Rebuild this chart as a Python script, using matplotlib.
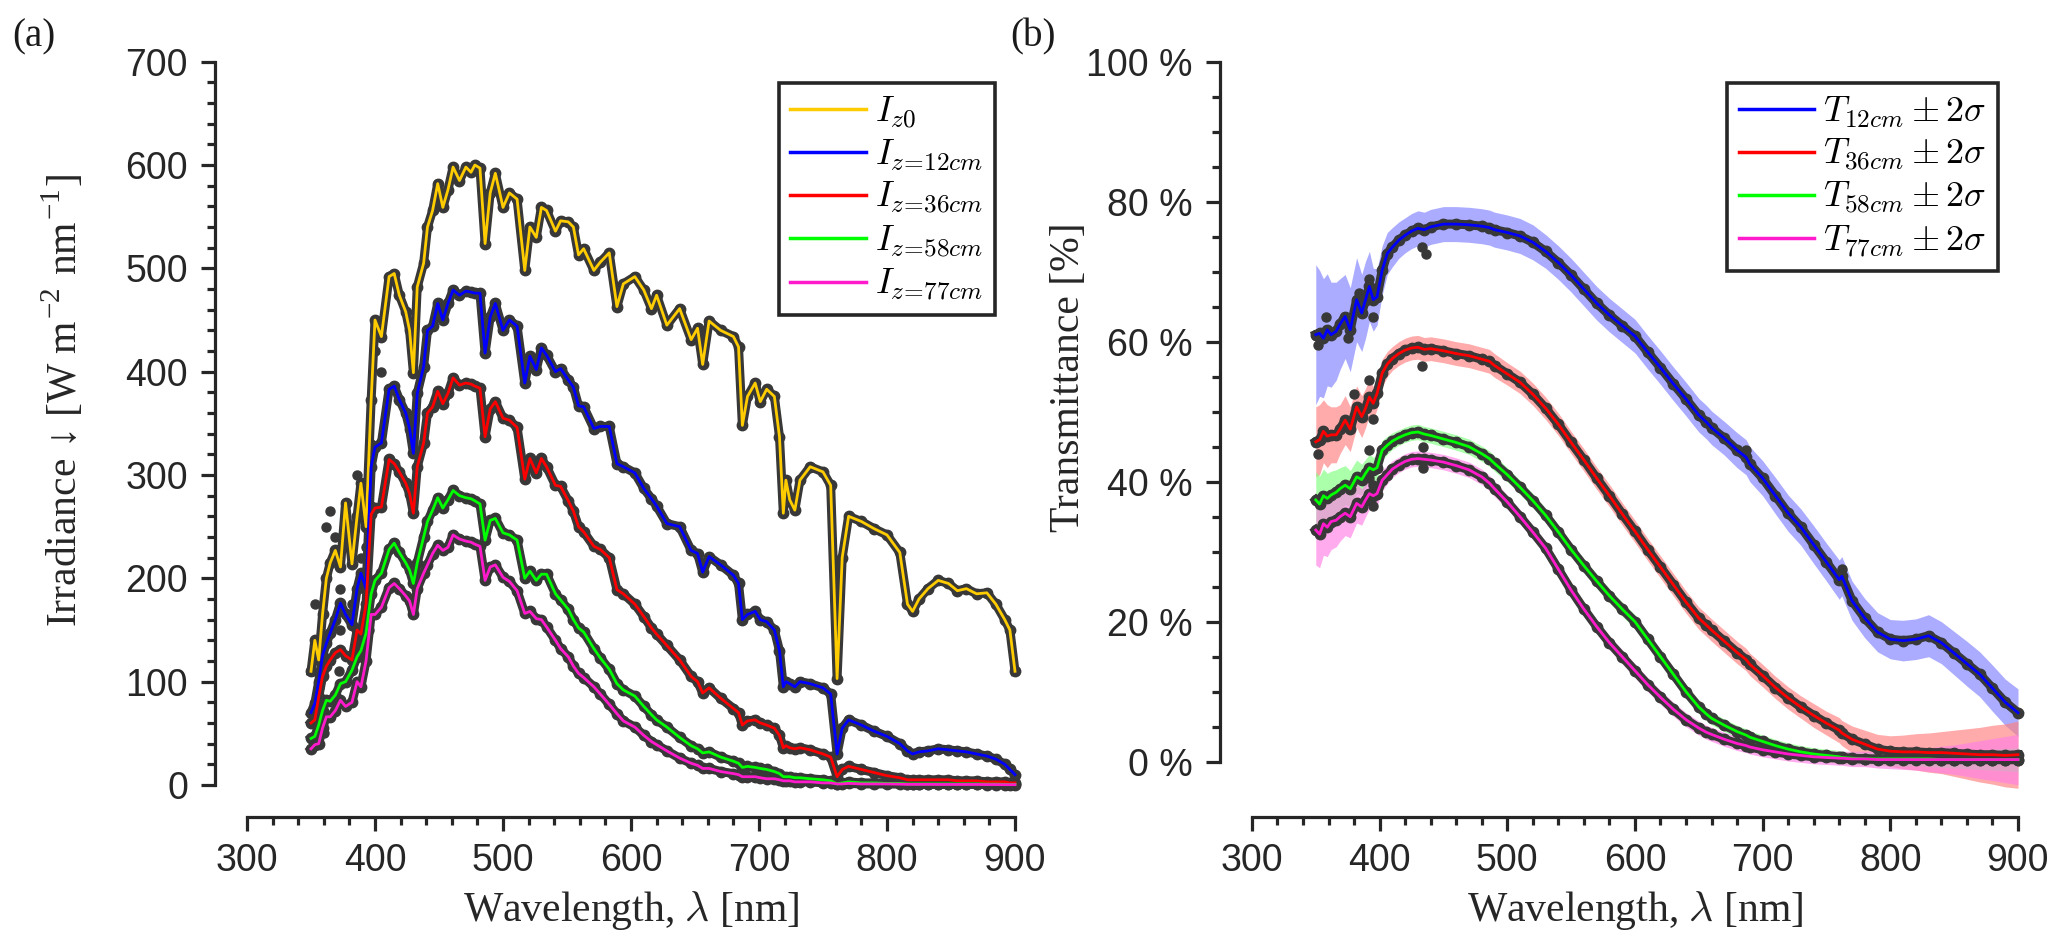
import numpy as np
import matplotlib
matplotlib.use('Agg')
import matplotlib.pyplot as plt
from matplotlib.ticker import FixedLocator, FuncFormatter

# ---------------- data: panel (a) irradiance ----------------
wavelength_irr = [350, 353, 356, 359, 362, 365, 369, 373, 377, 382,
                  386, 389, 393, 397, 400, 405, 411, 415, 419, 424,
                  427, 430, 433, 438, 441, 445, 449, 453, 457, 461,
                  466, 471, 475, 478, 482, 486, 490, 494, 500, 505,
                  511, 517, 521, 526, 530, 534, 541, 545, 551, 555,
                  559, 563, 571, 576, 583, 589, 594, 603, 610, 616,
                  620, 628, 638, 647, 652, 656, 661, 670, 680, 684,
                  687, 691, 697, 701, 706, 712, 716, 719, 721, 724,
                  728, 732, 740, 750, 756, 761, 765, 770, 780, 790,
                  800, 810, 816, 820, 825, 832, 840, 848, 855, 862,
                  870, 878, 885, 892, 896, 900]

irr_z0 = [110, 140, 121, 165, 200, 215, 227, 211, 273, 214,
          260, 292, 250, 373, 450, 434, 492, 495, 474, 458,
          440, 399, 482, 505, 540, 556, 582, 559, 576, 598,
          585, 598, 593, 600, 597, 524, 573, 592, 559, 573,
          567, 498, 540, 530, 559, 556, 536, 546, 545, 540,
          513, 519, 498, 506, 515, 463, 485, 492, 479, 461,
          474, 445, 461, 431, 442, 407, 449, 440, 434, 424,
          348, 376, 389, 371, 383, 376, 337, 263, 295, 276,
          266, 295, 308, 303, 290, 103, 220, 260, 255, 248,
          242, 225, 175, 168, 180, 190, 198, 195, 188, 190,
          185, 186, 175, 160, 150, 110]

irr_z12 = [70, 79, 100, 125, 137, 147, 160, 176, 165, 155,
           190, 205, 190, 308, 327, 331, 383, 386, 373, 360,
           345, 321, 379, 405, 440, 444, 466, 450, 466, 479,
           474, 478, 477, 476, 476, 418, 453, 466, 440, 450,
           444, 389, 415, 402, 423, 416, 400, 403, 392, 385,
           367, 366, 345, 347, 347, 311, 308, 302, 287, 277,
           270, 253, 250, 227, 224, 206, 221, 213, 203, 195,
           160, 165, 168, 160, 158, 150, 130, 95, 100, 98,
           95, 100, 98, 94, 88, 30, 55, 63, 58, 52,
           47, 40, 33, 30, 32, 33, 35, 34, 33, 32,
           30, 28, 25, 20, 15, 10]

irr_z36 = [60, 63, 85, 105, 115, 121, 128, 131, 125, 121,
           150, 146, 175, 262, 268, 269, 315, 311, 303, 292,
           282, 263, 308, 331, 360, 366, 381, 369, 379, 394,
           387, 389, 388, 386, 384, 337, 364, 371, 355, 353,
           346, 296, 316, 302, 316, 308, 290, 289, 275, 265,
           250, 245, 231, 228, 220, 189, 185, 175, 163, 152,
           146, 135, 121, 105, 100, 89, 94, 84, 74, 70,
           58, 62, 63, 60, 58, 55, 48, 36, 38, 36,
           35, 36, 34, 30, 27, 8, 15, 18, 15, 12,
           9, 7, 5, 5, 5, 5, 5, 5, 4, 4,
           4, 3, 3, 3, 2, 2]

irr_z58 = [45, 47, 58, 72, 82, 81, 87, 98, 100, 111,
           124, 130, 147, 185, 198, 205, 228, 234, 225, 215,
           208, 195, 215, 240, 255, 266, 278, 268, 276, 285,
           280, 278, 277, 275, 272, 237, 256, 258, 244, 242,
           237, 200, 207, 198, 204, 204, 185, 179, 170, 160,
           152, 148, 132, 123, 112, 98, 92, 86, 76, 68,
           63, 56, 46, 38, 35, 31, 32, 27, 23, 21,
           17, 18, 17, 16, 15, 13, 11, 8, 8, 8,
           7, 7, 6, 5, 4, 1, 2, 3, 2, 2,
           1.5, 1.5, 1, 1, 1, 1, 1, 1, 1, 1,
           1, 0.8, 0.8, 0.6, 0.5, 0.5]

irr_z77 = [35, 39, 40, 55, 66, 66, 72, 82, 76, 80,
           100, 95, 120, 165, 165, 172, 191, 195, 190, 183,
           178, 165, 190, 205, 213, 224, 232, 227, 230, 242,
           238, 236, 235, 233, 231, 198, 211, 213, 201, 197,
           188, 166, 168, 161, 160, 153, 140, 132, 124, 115,
           108, 104, 95, 88, 78, 69, 62, 56, 48, 42,
           39, 33, 26, 21, 19, 16, 16, 13, 11, 10,
           8, 8, 8, 7, 6, 6, 5, 4, 4, 4,
           3, 3, 3, 2, 2, 1, 1, 1.5, 1, 1,
           1, 0.8, 0.6, 0.6, 0.6, 0.6, 0.5, 0.5, 0.5, 0.5,
           0.5, 0.4, 0.4, 0.3, 0.3, 0.3]

# scattered individual readings (grey dots) in the noisy UV part
outlier_wl = [353, 356, 362, 365, 369, 373, 382, 386, 389, 393, 397, 400, 405,
              356, 365, 373, 382, 389, 393, 397, 360, 372, 386, 395]
outlier_irr = [175, 95, 250, 265, 240, 190, 240, 300, 270, 230, 330, 420, 400,
               60, 120, 150, 175, 220, 150, 270, 50, 110, 140, 150]

labels_irr = [r'$I_{z0}$', r'$I_{z\!=\!12cm}$', r'$I_{z\!=\!36cm}$',
              r'$I_{z\!=\!58cm}$', r'$I_{z\!=\!77cm}$']

# ---------------- data: panel (b) transmittance [%] ----------------
wavelength_T = [350, 353, 356, 359, 362, 366, 369, 373, 377, 382,
                386, 389, 392, 395, 398, 402, 406, 410, 415, 420,
                425, 430, 435, 440, 450, 460, 470, 480, 486, 490,
                500, 510, 520, 530, 540, 550, 560, 570, 580, 590,
                600, 610, 620, 630, 640, 650, 656, 660, 670, 680,
                687, 690, 700, 710, 720, 730, 740, 750, 760, 762,
                770, 780, 790, 800, 810, 820, 830, 840, 850, 860,
                870, 880, 890, 900]

T_12 = [61.0, 61.2, 60.5, 61.7, 61.0, 61.5, 62.5, 63.6, 61.7, 66.0,
        64.1, 66.0, 67.9, 66.0, 66.4, 70.2, 72.6, 73.5, 74.5, 75.2,
        75.8, 76.2, 76.0, 76.4, 76.8, 76.8, 76.7, 76.5, 76.3, 76.0,
        75.6, 75.1, 74.2, 72.9, 71.3, 69.5, 67.5, 65.5, 63.8, 62.3,
        60.8, 58.5, 56.3, 54.0, 51.8, 49.5, 48.5, 47.7, 46.2, 44.5,
        43.5, 42.5, 40.5, 38.0, 35.5, 33.5, 31.0, 28.5, 26.0, 26.5,
        23.0, 20.5, 18.5, 17.5, 17.3, 17.5, 18.0, 17.0, 15.5, 14.0,
        12.5, 10.5, 8.5, 7.0]

T_36 = [45.7, 46.0, 47.2, 46.5, 46.7, 46.7, 47.5, 48.8, 47.5, 50.7,
        49.3, 50.5, 52.1, 51.2, 52.6, 55.5, 56.8, 57.6, 58.3, 58.8,
        59.1, 59.2, 58.9, 59.0, 58.7, 58.3, 58.0, 57.5, 57.2, 56.6,
        55.4, 54.2, 52.5, 50.5, 48.2, 45.6, 43.1, 40.5, 38.0, 35.4,
        32.9, 30.3, 27.8, 25.3, 22.8, 20.5, 19.5, 18.8, 17.2, 15.6,
        14.6, 13.9, 12.3, 10.6, 9.1, 7.8, 6.6, 5.5, 4.5, 4.1,
        3.2, 2.5, 1.8, 1.5, 1.4, 1.4, 1.3, 1.3, 1.2, 1.1,
        1.0, 1.0, 0.9, 1.0]

T_58 = [37.4, 36.8, 38.0, 37.6, 38.1, 38.5, 39.0, 39.5, 39.0, 40.7,
        40.3, 41.2, 42.0, 41.7, 42.0, 44.5, 45.2, 45.8, 46.3, 46.7,
        47.0, 47.1, 46.8, 46.6, 46.1, 45.6, 45.0, 44.0, 43.3, 42.6,
        41.0, 39.2, 37.3, 35.2, 32.8, 30.3, 28.0, 25.8, 23.7, 21.8,
        20.0, 17.5, 15.0, 12.5, 10.0, 7.8, 6.8, 6.2, 5.2, 4.3,
        3.8, 3.5, 2.9, 2.3, 1.8, 1.4, 1.1, 0.9, 0.7, 0.6,
        0.5, 0.4, 0.4, 0.4, 0.4, 0.4, 0.4, 0.3, 0.3, 0.3,
        0.3, 0.3, 0.3, 0.3]

T_77 = [33.1, 32.5, 34.0, 33.5, 34.3, 34.5, 35.0, 35.5, 35.0, 36.9,
        36.4, 37.4, 38.3, 38.0, 38.3, 40.2, 41.0, 41.8, 42.4, 42.9,
        43.2, 43.3, 43.2, 43.1, 42.8, 42.3, 41.7, 40.7, 39.8, 39.0,
        37.1, 35.0, 32.8, 30.5, 27.5, 24.5, 21.8, 19.3, 17.0, 15.0,
        13.0, 11.0, 9.2, 7.5, 6.0, 4.8, 4.2, 3.9, 3.2, 2.6,
        2.3, 2.1, 1.7, 1.4, 1.1, 0.9, 0.7, 0.6, 0.5, 0.5,
        0.4, 0.4, 0.3, 0.3, 0.3, 0.3, 0.3, 0.3, 0.3, 0.3,
        0.3, 0.3, 0.3, 0.3]

# 2-sigma half widths [%]
sig2_12 = [10, 9, 8.5, 8, 7.5, 7, 6.5, 6, 6, 6,
           5.5, 5.5, 5, 4.5, 4, 3.5, 3, 2.8, 2.6, 2.5,
           2.5, 2.5, 2.5, 2.5, 2.5, 2.5, 2.5, 2.5, 2.5, 2.5,
           2.5, 2.5, 2.5, 2.4, 2.4, 2.4, 2.4, 2.4, 2.4, 2.4,
           2.4, 2.4, 2.4, 2.4, 2.4, 2.4, 2.4, 2.4, 2.4, 2.5,
           2.5, 2.5, 2.5, 2.6, 2.6, 2.6, 2.7, 2.7, 2.8, 2.8,
           2.8, 2.8, 2.8, 2.8, 2.9, 2.9, 3.0, 3.0, 3.1, 3.2,
           3.2, 3.3, 3.3, 3.4]

sig2_36 = [5, 5, 4.5, 4.5, 4, 4, 3.5, 3.5, 3.2, 3,
           3, 2.8, 2.6, 2.4, 2.2, 2, 1.8, 1.7, 1.7, 1.7,
           1.7, 1.7, 1.7, 1.7, 1.7, 1.7, 1.7, 1.7, 1.7, 1.7,
           1.6, 1.6, 1.6, 1.6, 1.6, 1.6, 1.6, 1.6, 1.6, 1.6,
           1.6, 1.6, 1.6, 1.6, 1.6, 1.6, 1.6, 1.6, 1.6, 1.6,
           1.6, 1.6, 1.6, 1.6, 1.6, 1.6, 1.7, 1.7, 1.8, 1.8,
           1.9, 2.0, 2.1, 2.2, 2.4, 2.6, 2.8, 3.0, 3.3, 3.6,
           3.9, 4.2, 4.5, 4.8]

sig2_58 = [4, 4, 3.8, 3.6, 3.4, 3.2, 3, 2.8, 2.6, 2.4,
           2.2, 2, 1.9, 1.8, 1.6, 1.4, 1.3, 1.2, 1.1, 1.1,
           1.1, 1.1, 1.1, 1.1, 1.1, 1.1, 1.1, 1.1, 1.1, 1.1,
           1.0, 1.0, 1.0, 1.0, 1.0, 1.0, 1.0, 1.0, 1.0, 1.0,
           1.0, 1.0, 1.0, 0.9, 0.9, 0.9, 0.9, 0.9, 0.9, 0.9,
           0.9, 0.9, 0.9, 0.9, 0.9, 0.9, 0.9, 0.9, 0.9, 0.9,
           0.9, 0.9, 0.9, 1.0, 1.0, 1.0, 1.1, 1.1, 1.2, 1.3,
           1.4, 1.5, 1.6, 1.7]

sig2_77 = [5, 4.8, 4.5, 4.2, 4, 3.8, 3.5, 3.2, 3, 2.8,
           2.6, 2.4, 2.2, 2, 1.8, 1.5, 1.3, 1.2, 1.1, 1.1,
           1.1, 1.1, 1.1, 1.1, 1.1, 1.1, 1.1, 1.1, 1.1, 1.1,
           1.0, 1.0, 1.0, 1.0, 1.0, 1.0, 1.0, 1.0, 1.0, 1.0,
           1.0, 1.0, 1.0, 1.0, 1.0, 1.0, 1.0, 1.0, 1.0, 1.0,
           1.0, 1.0, 1.0, 1.0, 1.0, 1.0, 1.0, 1.0, 1.0, 1.0,
           1.1, 1.1, 1.2, 1.3, 1.4, 1.5, 1.7, 1.9, 2.1, 2.4,
           2.7, 3.0, 3.3, 3.6]

# scattered individual readings (grey dots) for panel (b)
outlier_wl_T = [352, 358, 375, 384, 392, 395, 433, 436, 352, 380, 392, 395, 433,
                392, 395, 434, 392, 395, 434, 687, 762]
outlier_T = [59.5, 63.5, 60.5, 67.0, 69.0, 63.5, 73.5, 72.5, 44.0, 52.5, 54.5, 49.0, 56.5,
             44.5, 39.5, 45.0, 40.5, 36.5, 42.0, 44.5, 27.5]

labels_T = [r'$T_{12cm} \pm 2\sigma$', r'$T_{36cm} \pm 2\sigma$',
            r'$T_{58cm} \pm 2\sigma$', r'$T_{77cm} \pm 2\sigma$']

# ---------------- style ----------------
colors_irr = ['#FFCC00', '#0000FF', '#FF0000', '#00FF00', '#FF1ACC']
colors_T = colors_irr[1:]
band_colors = ['#7F7FFF', '#FF7F7F', '#7FFF7F', '#FF7FE6']
dot_color = '#383838'
axis_color = '#262626'

plt.rcParams['font.family'] = ['Liberation Sans', 'DejaVu Sans']
plt.rcParams['mathtext.fontset'] = 'cm'
serif = ['Liberation Serif', 'DejaVu Serif']

W, H = 2067, 952
fig = plt.figure(figsize=(W / 100, H / 100), dpi=100)

def px_axes(x0, x1, y_top, y_bot):
    return [x0 / W, 1 - y_bot / H, (x1 - x0) / W, (y_bot - y_top) / H]

axL = fig.add_axes(px_axes(215, 1015, 61.7, 817))
axR = fig.add_axes(px_axes(1220, 2018, 61.7, 817))


def style_axis(ax, yticks, yminor, ybounds):
    for s in ['top', 'right']:
        ax.spines[s].set_visible(False)
    for s in ['left', 'bottom']:
        ax.spines[s].set_linewidth(2.3)
        ax.spines[s].set_color(axis_color)
    ax.spines['bottom'].set_bounds(300, 900)
    ax.spines['left'].set_bounds(*ybounds)
    ax.xaxis.set_major_locator(FixedLocator(np.arange(300, 901, 100)))
    ax.xaxis.set_minor_locator(FixedLocator(np.arange(300, 901, 20)))
    ax.yaxis.set_major_locator(FixedLocator(yticks))
    ax.yaxis.set_minor_locator(FixedLocator(yminor))
    ax.tick_params(which='major', direction='out', length=10, width=2.3,
                   color=axis_color, labelsize=27, labelcolor='#262626')
    ax.tick_params(which='minor', direction='out', length=5.5, width=2.3,
                   color=axis_color)
    ax.tick_params(axis='x', which='major', pad=8.5)
    ax.tick_params(axis='y', which='major', pad=9.5)
    ax.set_xlim(275, 900)


def leg(ax):
    lg = ax.legend(loc='upper right', bbox_to_anchor=(0.975, 0.972),
                   fontsize=26, frameon=True, fancybox=False, framealpha=1,
                   edgecolor=axis_color, borderpad=0.32, labelspacing=0.2,
                   handlelength=2.1, handletextpad=0.25, borderaxespad=0)
    lg.get_frame().set_linewidth(2.6)
    for h in lg.get_lines():
        h.set_linewidth(2.5)
    return lg


# ---------------- panel (a) ----------------
series_irr = [irr_z0, irr_z12, irr_z36, irr_z58, irr_z77]
axL.plot(outlier_wl, outlier_irr, ls='none', marker='o', ms=6.5,
         color=dot_color, zorder=2)
for vals in series_irr:
    axL.plot(wavelength_irr, vals, color=dot_color, lw=6.5, marker='o', ms=7.5,
             mec=dot_color, mfc=dot_color, zorder=2, clip_on=False,
             solid_joinstyle='round')
for vals, col, lab in zip(series_irr, colors_irr, labels_irr):
    axL.plot(wavelength_irr, vals, color=col, lw=2.0, zorder=3, label=lab,
             clip_on=False)

style_axis(axL, np.arange(0, 701, 100), np.arange(0, 701, 20), (0, 700))
axL.set_ylim(-31, 700)
axL.set_xlabel(r'Wavelength, $\lambda$ [nm]', family=serif, size=30,
               va='baseline', color='#262626')
axL.xaxis.set_label_coords(0.52, -0.1377)
axL.set_ylabel('Irradiance \u2193 [W m$^{\\mathregular{-2}}$ nm$^{\\mathregular{-1}}$]',
               family=serif, size=30, va='center', color='#262626')
axL.yaxis.set_label_coords(-0.19, 0.54)
leg(axL)

# ---------------- panel (b) ----------------
series_T = [T_12, T_36, T_58, T_77]
sig_T = [sig2_12, sig2_36, sig2_58, sig2_77]
wT = np.array(wavelength_T)
for vals, sg, bcol in zip(series_T, sig_T, band_colors):
    v = np.array(vals)
    s = np.array(sg)
    axR.fill_between(wT, v - s, v + s, color=bcol, alpha=0.65, lw=0, zorder=1)
axR.plot(outlier_wl_T, outlier_T, ls='none', marker='o', ms=6.5,
         color=dot_color, zorder=2)
for vals in series_T:
    axR.plot(wT, vals, color=dot_color, lw=6.5, marker='o', ms=7.5,
             mec=dot_color, mfc=dot_color, zorder=2, clip_on=False,
             solid_joinstyle='round')
for vals, col, lab in zip(series_T, colors_T, labels_T):
    axR.plot(wT, vals, color=col, lw=2.0, zorder=3, label=lab, clip_on=False)

style_axis(axR, np.arange(0, 101, 20), np.arange(0, 101, 5), (0, 100))
axR.set_ylim(-7.9, 100)
axR.yaxis.set_major_formatter(FuncFormatter(lambda v, p: f'{v:.0f} %'))
axR.set_xlabel(r'Wavelength, $\lambda$ [nm]', family=serif, size=30,
               va='baseline', color='#262626')
axR.xaxis.set_label_coords(0.52, -0.1377)
axR.set_ylabel('Transmittance [%]', family=serif, size=30, va='center',
               color='#262626')
axR.yaxis.set_label_coords(-0.19, 0.574)
leg(axR)

fig.text(12 / W, 1 - 18 / H, '(a)', family=serif, size=28, va='top',
         ha='left', color='#1a1a1a')
fig.text(1010 / W, 1 - 18 / H, '(b)', family=serif, size=28, va='top',
         ha='left', color='#1a1a1a')

# place the y labels so that their upper ends sit where they do in the reference
fig.canvas.draw()
renderer = fig.canvas.get_renderer()
for ax, top_px in [(axL, 173), (axR, 222)]:
    lab = ax.yaxis.label
    bb = lab.get_window_extent(renderer)
    shift = (H - top_px) - bb.y1
    ax_h = ax.get_window_extent(renderer).height
    x_c, y_c = lab.get_position()
    inv = ax.transAxes.inverted()
    cx, cy = inv.transform(((bb.x0 + bb.x1) / 2, (bb.y0 + bb.y1) / 2 + shift))
    ax.yaxis.set_label_coords(-0.19, cy)

fig.savefig('out.png', dpi=100)
